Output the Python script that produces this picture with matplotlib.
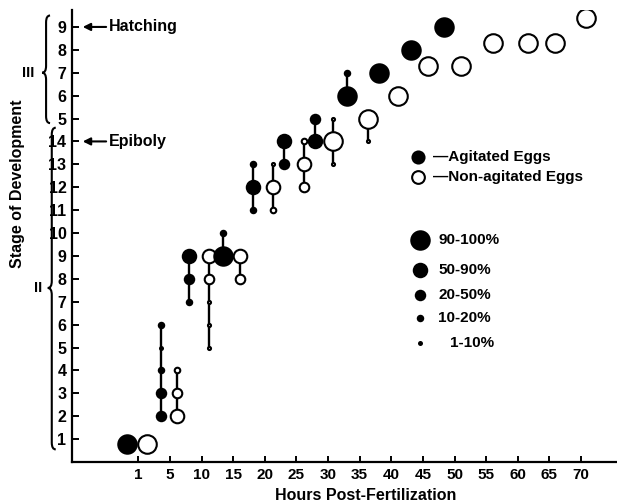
import matplotlib
matplotlib.use("Agg")
import matplotlib.pyplot as plt
from matplotlib.path import Path
from matplotlib.patches import PathPatch

plt.rcParams['font.family'] = ['Liberation Sans', 'DejaVu Sans']
plt.rcParams['font.weight'] = 'bold'

# one entry per sampled group of eggs
# x is on the chart's hour scale (0 sits under the "1" label)
# stage position: II 1-14 -> 1..14, III 5-9 -> 15..19
col_hours = [-1.8, 1.4, 3.6, 6.1, 8.0, 11.1, 13.4, 16.1, 18.1, 21.3, 23.0, 26.2, 27.9,
             30.8, 33.0, 36.3, 38.0, 41.0, 43.1, 45.8, 48.3, 51.0, 56.1, 61.6, 65.9, 70.8]
col_agitated = [1, 0, 1, 0, 1, 0, 1, 0, 1, 0, 1, 0, 1,
                0, 1, 0, 1, 0, 1, 0, 1, 0, 0, 0, 0, 0]
col_stages = [[0.8], [0.8], [2, 3, 4, 5, 6], [2, 3, 4], [9, 8, 7], [9, 8, 7, 6, 5],
              [9, 10], [9, 8], [13, 12, 11], [13, 12, 11], [14, 13], [14, 13, 12],
              [15, 14], [15, 14, 13], [17, 16], [15, 14], [17], [16], [18], [17.3],
              [19], [17.3], [18.3], [18.3], [18.3], [19.4]]
# percent class: 5=90-100%, 4=50-90%, 3=20-50%, 2=10-20%, 1=1-10%
col_pct = [[5], [5], [3, 3, 2, 1, 2], [4, 3, 2], [4, 3, 2], [4, 3, 1, 1, 1],
           [5, 2], [4, 3], [2, 4, 2], [1, 4, 2], [4, 3], [2, 4, 3],
           [3, 4], [1, 5, 1], [2, 5], [5, 1], [5], [5], [5], [5],
           [5], [5], [5], [5], [5], [5]]

x_ticks = [0, 5, 10, 15, 20, 25, 30, 35, 40, 45, 50, 55, 60, 65, 70]
x_labels = ['1', '5', '10', '15', '20', '25', '30', '35', '40', '45', '50', '55', '60', '65', '70']
y_ticks = list(range(1, 20))
y_labels = [str(i) for i in range(1, 15)] + ['5', '6', '7', '8', '9']

pct_codes = [5, 4, 3, 2, 1]
pct_labels = ['90-100%', '50-90%', '20-50%', '10-20%', '1-10%']

# marker diameter in pixels for each percent class
diam_px = {5: 20.5, 4: 15.5, 3: 11.5, 2: 7.5, 1: 5}


def ms(code):
    return diam_px[code] * 0.72


def brace(ax, x, y0, y1, ym, w=0.63, d=0.3):
    verts = [(x + w, y1), (x, y1), (x, y1 - d),
             (x, ym + d),
             (x, ym), (x - w, ym),
             (x, ym), (x, ym - d),
             (x, y0 + d),
             (x, y0), (x + w, y0)]
    codes = [Path.MOVETO, Path.CURVE3, Path.CURVE3, Path.LINETO,
             Path.CURVE3, Path.CURVE3, Path.CURVE3, Path.CURVE3,
             Path.LINETO, Path.CURVE3, Path.CURVE3]
    p = PathPatch(Path(verts, codes), fill=False, lw=1.5, color='k', clip_on=False)
    ax.add_patch(p)


fig = plt.figure(figsize=(6.17, 5.03), dpi=100)
ax = fig.add_axes([72 / 617, 41 / 503, 545 / 617, 452 / 503])

# connecting stems
for x, st in zip(col_hours, col_stages):
    if len(st) > 1:
        ax.plot([x, x], [min(st), max(st)], color='k', lw=1.7, zorder=1)

# open circles first, filled on top
for order in (0, 1):
    for x, ag, st, pc in zip(col_hours, col_agitated, col_stages, col_pct):
        if ag != order:
            continue
        for s, c in zip(st, pc):
            if ag:
                ax.plot(x, s, 'o', ms=ms(c), mfc='k', mec='k', mew=0, zorder=3)
            else:
                ax.plot(x, s, 'o', ms=ms(c) - 1.4, mfc='white', mec='k', mew=1.5, zorder=2)

# egg type legend
ax.plot(44.3, 13.32, 'o', ms=ms(4) - 1, mfc='k', mec='k', mew=0)
ax.plot(44.3, 12.45, 'o', ms=ms(4) - 2, mfc='white', mec='k', mew=1.5)
ax.text(46.6, 13.32, '\u2014Agitated Eggs', fontsize=11, va='center', ha='left')
ax.text(46.6, 12.45, '\u2014Non-agitated Eggs', fontsize=11, va='center', ha='left')

# size legend
leg_y = [9.69, 8.38, 7.29, 6.29, 5.2]
for yy, c, lab in zip(leg_y, pct_codes, pct_labels):
    ax.plot(44.6, yy, 'o', ms=ms(c), mfc='k', mec='k', mew=0)
    tx = 49.3 if c == 1 else 47.4
    ax.text(tx, yy, lab, fontsize=11, va='center', ha='left')

# annotations
for yy, lab in [(19.0, 'Hatching'), (14.0, 'Epiboly')]:
    ax.annotate('', xy=(-8.8, yy), xytext=(-5.1, yy), annotation_clip=False,
                arrowprops=dict(arrowstyle='-|>', color='k', lw=1.5,
                                mutation_scale=11, shrinkA=0, shrinkB=0))
    ax.text(-4.6, yy, lab, fontsize=11.5, va='center', ha='left')

# stage braces
brace(ax, -14.6, 14.8, 19.5, 17.0)
brace(ax, -13.7, 0.55, 14.6, 7.6)
ax.text(-17.5, 17.0, 'III', fontsize=10.5, va='center', ha='center')
ax.text(-15.9, 7.6, 'II', fontsize=10.5, va='center', ha='center')

ax.set_xlim(-10.5, 75.7)
ax.set_ylim(0, 19.74)
ax.set_xticks(x_ticks)
ax.set_xticklabels(x_labels)
ax.set_yticks(y_ticks)
ax.set_yticklabels(y_labels)
ax.tick_params(axis='y', direction='in', length=5, width=1.4, pad=4, labelsize=11.5)
ax.tick_params(axis='x', direction='in', length=4, width=1.4, pad=4, labelsize=11)
for side in ['top', 'right']:
    ax.spines[side].set_visible(False)
for side in ['left', 'bottom']:
    ax.spines[side].set_linewidth(1.6)

fig.text(366 / 617, 1 - 495 / 503, 'Hours Post-Fertilization', fontsize=11.5,
         ha='center', va='center')
fig.text(18 / 617, 1 - 184 / 503, 'Stage of Development', fontsize=11.5,
         ha='center', va='center', rotation=90)

fig.savefig('out.png', dpi=100)
